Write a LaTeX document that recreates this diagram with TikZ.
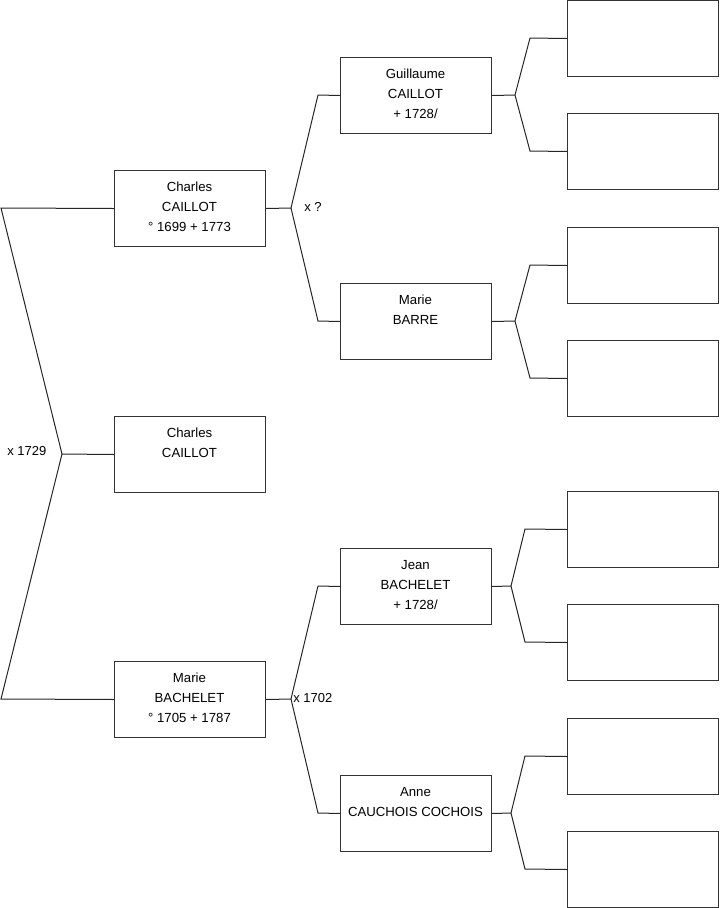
\documentclass[tikz,border=0pt]{standalone}
\usepackage{fontspec}
\setmainfont{Liberation Sans}
\begin{document}
\begin{tikzpicture}[x=0.75pt,y=-0.75pt,
  box/.style={draw=black!80, line width=0.75pt, minimum width=113.25pt, minimum height=57pt, inner sep=0pt, anchor=north west},
  txt/.style={align=center, anchor=base, inner sep=0pt, font=\fontsize{9.9}{15}\selectfont},
  lab/.style={anchor=west, inner sep=0pt, font=\fontsize{9.75}{12}\selectfont},
  link/.style={draw=black!85, line width=0.75pt}]
\useasboundingbox (0,0) rectangle (719,908);
% generation 1
\node[box] (c0) at (114,416) {};
\node[txt] (c0t) at (189.5,457) {Charles\\CAILLOT};
% generation 2
\node[box] (c1) at (114,170) {};
\node[txt] (c1t) at (189.5,231) {Charles\\CAILLOT\\° 1699 + 1773};
\node[box] (m1) at (114,661) {};
\node[txt] (m1t) at (189.5,722) {Marie\\BACHELET\\° 1705 + 1787};
% generation 3
\node[box] (g) at (340,57) {};
\node[txt] (gt) at (415.5,118) {Guillaume\\CAILLOT\\+ 1728/};
\node[box] (b) at (340,283) {};
\node[txt] (bt) at (415.5,324) {Marie\\BARRE};
\node[box] (j) at (340,548) {};
\node[txt] (jt) at (415.5,609) {Jean\\BACHELET\\+ 1728/};
\node[box] (a) at (340,775) {};
\node[txt] (at) at (415.5,816) {Anne\\CAUCHOIS COCHOIS};
% generation 4
\node[box] (e1) at (567,0) {};
\node[box] (e2) at (567,113) {};
\node[box] (e3) at (567,227) {};
\node[box] (e4) at (567,340) {};
\node[box] (e5) at (567,491) {};
\node[box] (e6) at (567,604) {};
\node[box] (e7) at (567,718) {};
\node[box] (e8) at (567,831) {};
% connectors
\coordinate (r0) at (62,454);
\draw[link] (c1.west) -- (1,208) -- (r0) -- (1,699) -- (m1.west);
\draw[link] (r0) -- (c0.west);
\node[lab] (l0) at (7,451) {x 1729};

\coordinate (r1) at (291,208);
\draw[link] (c1.east) -- (r1);
\draw[link] (g.west) -- (318,95) -- (r1) -- (318,321) -- (b.west);
\node[lab] (l1) at (304,207) {x ?};

\coordinate (r2) at (291,699);
\draw[link] (m1.east) -- (r2);
\draw[link] (j.west) -- (318,586) -- (r2) -- (318,813) -- (a.west);
\node[lab] (l2) at (293,698) {x 1702};

\coordinate (rg) at (515,95);
\draw[link] (g.east) -- (rg);
\draw[link] (e1.west) -- (530,38) -- (rg) -- (530,151) -- (e2.west);

\coordinate (rb) at (515,321);
\draw[link] (b.east) -- (rb);
\draw[link] (e3.west) -- (530,265) -- (rb) -- (530,378) -- (e4.west);

\coordinate (rj) at (511,586);
\draw[link] (j.east) -- (rj);
\draw[link] (e5.west) -- (525,529) -- (rj) -- (525,642) -- (e6.west);

\coordinate (ra) at (511,813);
\draw[link] (a.east) -- (ra);
\draw[link] (e7.west) -- (525,756) -- (ra) -- (525,869) -- (e8.west);
\end{tikzpicture}
\end{document}
